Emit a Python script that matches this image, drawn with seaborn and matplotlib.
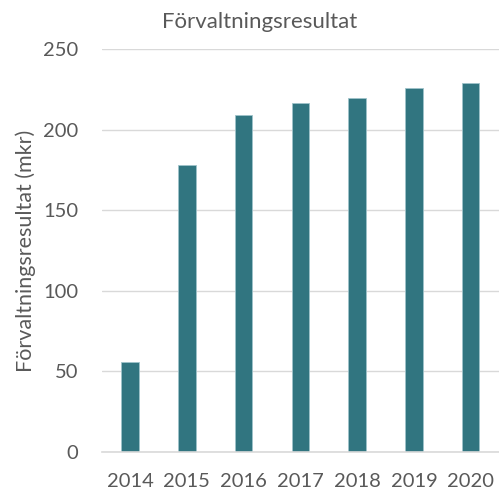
import matplotlib
matplotlib.use("Agg")
import pandas as pd
import seaborn as sns
import matplotlib.pyplot as plt

# data
years = ["2014", "2015", "2016", "2017", "2018", "2019", "2020"]
resultat = [56, 178, 209, 217, 220, 226, 229]
yticks = [0, 50, 100, 150, 200, 250]

title = "Förvaltningsresultat"
ylabel = "Förvaltningsresultat (mkr)"

df = pd.DataFrame({"year": years, "value": resultat})

sns.set_style("white")
plt.rcParams["font.family"] = ["Lato", "DejaVu Sans"]
text_col = "#595959"
grid_col = "#d9d9d9"

fig = plt.figure(figsize=(4.99, 4.90), dpi=100)
ax = fig.add_axes([0.204, 0.078, 0.796, 0.821])

sns.barplot(data=df, x="year", y="value", color="#317580", saturation=1,
            width=0.31, edgecolor="#9fc3ca", linewidth=0.6, ax=ax)

ax.set_ylim(0, 250)
ax.set_yticks(yticks)
ax.set_xlim(-0.5, len(years) - 0.5)
ax.yaxis.grid(True, color=grid_col, linewidth=1.0)
ax.set_axisbelow(True)

for s in ["top", "right", "left"]:
    ax.spines[s].set_visible(False)
ax.spines["bottom"].set_color(grid_col)
ax.spines["bottom"].set_linewidth(1.2)

ax.tick_params(axis="y", length=0, pad=17, labelsize=14.5, labelcolor=text_col)
ax.tick_params(axis="x", length=0, pad=15, labelsize=14.5, labelcolor=text_col)

ax.set_xlabel("")
ax.set_ylabel(ylabel, fontsize=15.5, color=text_col, labelpad=5)
fig.text(0.52, 0.955, title, ha="center", va="center", fontsize=16, color=text_col)

fig.savefig("out.png", dpi=100)
